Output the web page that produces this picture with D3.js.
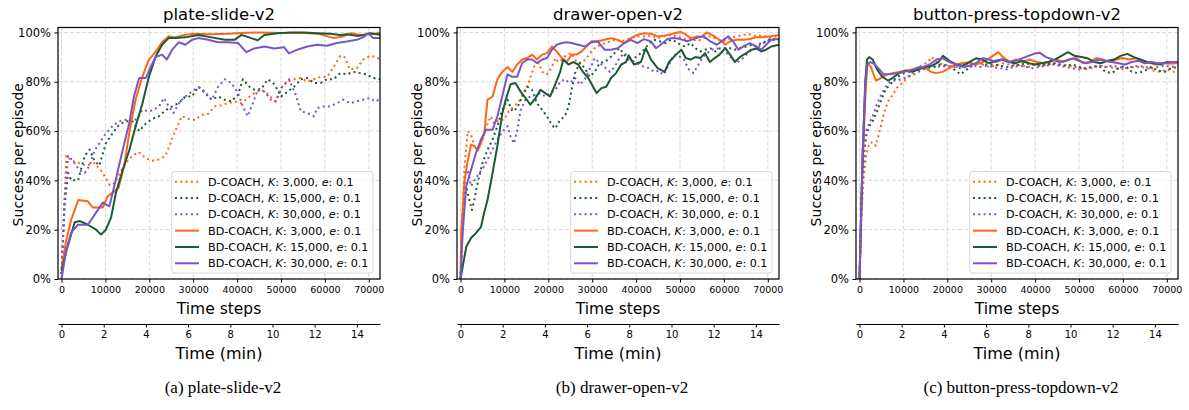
<!DOCTYPE html>
<html>
<head>
<meta charset="utf-8">
<script src="https://cdn.jsdelivr.net/npm/d3@7"></script>
<style>
  body { margin: 0; background: #fff; }
  svg text { font-family: "DejaVu Sans", sans-serif; fill: #000; }
</style>
</head>
<body>
<div id="chart"></div>
<script>
// tick labels
const stepTicks = [0, 10000, 20000, 30000, 40000, 50000, 60000, 70000];
const minuteTicks = [0, 2, 4, 6, 8, 10, 12, 14];
const pctTicks = [0, 0.2, 0.4, 0.6, 0.8, 1.0];

// legend entries
const methods = ["D-COACH", "D-COACH", "D-COACH", "BD-COACH", "BD-COACH", "BD-COACH"];
const bufferSizes = ["3,000", "15,000", "30,000", "3,000", "15,000", "30,000"];
const errorValue = "0.1";

const envTitles = ["plate-slide-v2", "drawer-open-v2", "button-press-topdown-v2"];
const captions = ["(a) plate-slide-v2", "(b) drawer-open-v2", "(c) button-press-topdown-v2"];

// ---- plate-slide-v2 : [time step, success] ----
const plateD3 = [[0,0.02],[1100,0.5],[2250,0.48],[4100,0.47],[5600,0.46],[7500,0.47],[9400,0.43],[11000,0.38],[12200,0.39],[13300,0.43],[14600,0.47],[16200,0.5],[17600,0.515],[19200,0.49],[20700,0.48],[22200,0.485],[23700,0.5],[24800,0.55],[25900,0.6],[27400,0.66],[28900,0.65],[30400,0.645],[31900,0.665],[33400,0.67],[34900,0.7],[36400,0.705],[37900,0.713],[39400,0.72],[40900,0.713],[42400,0.733],[43900,0.754],[45500,0.768],[47000,0.75],[48700,0.72],[50000,0.775],[51500,0.8],[53000,0.81],[54500,0.815],[56000,0.8],[57500,0.81],[59000,0.82],[60500,0.82],[62000,0.86],[63500,0.905],[64500,0.9],[65700,0.85],[67300,0.855],[68700,0.89],[70300,0.905],[71700,0.9],[72600,0.89]];
const plateD15 = [[0,0.02],[700,0.3],[1500,0.43],[2250,0.4],[3750,0.4],[5300,0.5],[6400,0.525],[7500,0.48],[8600,0.46],[10100,0.55],[11600,0.59],[13100,0.625],[14600,0.64],[16200,0.64],[17700,0.6],[19200,0.63],[20700,0.65],[22200,0.66],[23700,0.685],[25200,0.7],[26700,0.713],[28200,0.74],[29700,0.74],[31200,0.78],[32700,0.754],[34200,0.727],[35700,0.74],[37200,0.727],[38700,0.72],[40200,0.747],[41300,0.81],[42800,0.78],[43900,0.768],[45500,0.77],[47000,0.81],[48500,0.79],[50000,0.74],[51500,0.76],[53000,0.78],[54500,0.81],[56000,0.815],[57500,0.795],[59000,0.795],[60500,0.81],[62000,0.81],[63500,0.835],[65000,0.83],[66500,0.84],[68000,0.835],[69500,0.83],[71000,0.815],[72600,0.81]];
const plateD30 = [[0,0.02],[700,0.32],[1500,0.5],[2600,0.48],[4100,0.44],[5300,0.43],[6400,0.46],[7500,0.52],[8600,0.55],[10100,0.59],[11600,0.62],[13100,0.64],[14600,0.646],[16200,0.64],[17300,0.65],[18400,0.686],[19900,0.68],[21000,0.686],[22200,0.7],[23300,0.734],[24400,0.7],[25500,0.673],[27000,0.72],[28200,0.74],[29700,0.76],[31200,0.778],[32700,0.76],[34200,0.727],[35700,0.78],[37200,0.81],[38700,0.795],[40200,0.754],[41300,0.7],[42400,0.66],[43600,0.713],[44700,0.768],[46200,0.76],[47700,0.727],[48800,0.72],[50300,0.78],[51800,0.81],[53300,0.75],[54500,0.68],[56000,0.673],[57500,0.66],[58200,0.693],[59700,0.7],[61200,0.7],[62700,0.713],[64200,0.727],[65700,0.713],[67200,0.72],[68700,0.727],[70200,0.734],[71500,0.72],[72600,0.73]];
const plateB3 = [[0,0.04],[1000,0.15],[2200,0.24],[3800,0.32],[6000,0.315],[7100,0.29],[9400,0.29],[10500,0.335],[12000,0.355],[13000,0.37],[14300,0.46],[15400,0.59],[16900,0.73],[18400,0.82],[19900,0.89],[21400,0.92],[22900,0.96],[24400,0.985],[25900,0.98],[28000,0.99],[30000,0.995],[34000,0.993],[38000,0.995],[41000,0.998],[45000,1.0],[50000,0.998],[55000,0.998],[58500,0.995],[60500,0.985],[62000,0.977],[64000,0.983],[66000,0.997],[68000,0.99],[70000,0.993],[72600,0.998]];
const plateB15 = [[0,0.03],[1200,0.12],[3000,0.23],[4200,0.235],[6000,0.22],[7900,0.2],[9000,0.18],[10100,0.2],[11300,0.25],[12400,0.35],[13900,0.44],[15400,0.52],[16900,0.62],[18400,0.71],[19900,0.82],[21400,0.9],[22900,0.95],[24400,0.977],[26000,0.977],[28200,0.98],[31200,0.99],[34200,0.98],[37200,0.97],[39400,0.97],[41000,0.99],[43200,0.977],[44700,0.968],[46200,0.99],[49200,0.997],[52200,1.0],[55200,1.0],[58200,0.997],[61200,0.995],[63500,0.99],[65000,0.993],[67200,0.986],[69000,0.99],[70200,0.997],[72600,0.99]];
const plateB30 = [[0,0.0],[1100,0.12],[2250,0.19],[3750,0.22],[6000,0.22],[7900,0.27],[9400,0.31],[10900,0.295],[12000,0.375],[13100,0.46],[14300,0.55],[15400,0.63],[16500,0.74],[17700,0.815],[19200,0.815],[20300,0.86],[21400,0.9],[22900,0.91],[24000,0.89],[25200,0.93],[26700,0.96],[28200,0.95],[29700,0.97],[31200,0.977],[33400,0.97],[35700,0.96],[37900,0.96],[40200,0.957],[42100,0.92],[43900,0.935],[46200,0.943],[48500,0.935],[50700,0.94],[51800,0.915],[53700,0.93],[56000,0.943],[58200,0.95],[60500,0.946],[62700,0.957],[65000,0.963],[67200,0.97],[68700,0.98],[69900,0.997],[71000,0.977],[72600,0.977]];

// ---- drawer-open-v2 ----
const drawerD3 = [[0,0.0],[400,0.19],[900,0.457],[1650,0.6],[2400,0.585],[3150,0.54],[3900,0.524],[5000,0.565],[6150,0.63],[6900,0.66],[7700,0.63],[8800,0.646],[9900,0.646],[11000,0.68],[12200,0.7],[13300,0.72],[14400,0.754],[15600,0.8],[16700,0.86],[17800,0.876],[18600,0.84],[19700,0.83],[20800,0.86],[21600,0.896],[22300,0.88],[23100,0.89],[24200,0.91],[25300,0.916],[26400,0.88],[27600,0.876],[28700,0.896],[29800,0.923],[31000,0.943],[32100,0.95],[33200,0.96],[34300,0.963],[35500,0.973],[36600,0.963],[37700,0.97],[38800,0.977],[40300,0.984],[41800,0.984],[43400,0.987],[44900,0.977],[46400,0.984],[47900,0.99],[49400,0.984],[50900,0.973],[52400,0.977],[53900,0.964],[55400,0.977],[56900,0.984],[58400,0.973],[59900,0.964],[61400,0.977],[62900,0.984],[64400,0.99],[65900,0.993],[67400,0.984],[68900,0.987],[70400,0.98],[72600,0.984]];
const drawerD15 = [[0,0.0],[500,0.25],[1300,0.376],[2000,0.32],[2600,0.28],[3150,0.32],[3900,0.39],[5000,0.47],[6150,0.524],[7300,0.565],[8400,0.62],[9500,0.686],[10700,0.727],[11800,0.68],[12900,0.693],[14050,0.74],[15200,0.78],[16300,0.767],[17400,0.713],[18600,0.686],[19700,0.66],[20800,0.625],[21600,0.61],[22700,0.646],[23800,0.66],[24600,0.7],[25300,0.767],[26100,0.835],[27200,0.876],[28300,0.855],[29400,0.82],[30600,0.84],[31700,0.876],[32800,0.88],[34000,0.896],[35100,0.916],[36200,0.936],[37300,0.91],[38500,0.88],[39600,0.896],[40700,0.91],[41800,0.93],[43000,0.957],[44100,0.97],[45600,0.963],[46700,0.957],[47900,0.97],[49000,0.963],[50100,0.95],[51200,0.943],[52400,0.957],[53500,0.936],[54600,0.923],[55700,0.93],[56900,0.936],[58000,0.923],[59100,0.936],[60300,0.936],[61400,0.936],[62500,0.93],[63600,0.936],[65100,0.943],[66300,0.95],[67400,0.943],[68500,0.957],[69600,0.964],[70800,0.977],[72600,0.964]];
const drawerD30 = [[0,0.0],[500,0.25],[1100,0.416],[1650,0.443],[2400,0.376],[3150,0.4],[4300,0.43],[5400,0.457],[6500,0.497],[7700,0.54],[8800,0.578],[9900,0.605],[10700,0.62],[11400,0.578],[12200,0.55],[12900,0.6],[13700,0.686],[14800,0.727],[15900,0.74],[17100,0.747],[18200,0.754],[19300,0.74],[20400,0.754],[21600,0.767],[22700,0.8],[23800,0.81],[24900,0.795],[26100,0.815],[27200,0.788],[28300,0.81],[29400,0.85],[30600,0.896],[31700,0.876],[32800,0.86],[34000,0.84],[35100,0.86],[36200,0.896],[37300,0.916],[38500,0.896],[39600,0.88],[40700,0.87],[41800,0.86],[43000,0.855],[44100,0.84],[45200,0.845],[46200,0.828],[47500,0.87],[48600,0.91],[49700,0.905],[50900,0.89],[52000,0.85],[53100,0.835],[54200,0.87],[55000,0.896],[56100,0.916],[57300,0.93],[58400,0.936],[59500,0.923],[60600,0.916],[61800,0.896],[62900,0.876],[64000,0.89],[65100,0.91],[66300,0.93],[67400,0.936],[68500,0.95],[69600,0.964],[70800,0.97],[72600,0.973]];
const drawerB3 = [[0,0.0],[150,0.19],[900,0.4],[1650,0.48],[2400,0.545],[3150,0.54],[3900,0.52],[4650,0.55],[5400,0.59],[6150,0.727],[7300,0.74],[8400,0.81],[9500,0.84],[10700,0.86],[11800,0.84],[12900,0.87],[14050,0.89],[15200,0.896],[16300,0.91],[17400,0.89],[18600,0.91],[19700,0.916],[20800,0.943],[21900,0.923],[23100,0.896],[24200,0.88],[25300,0.91],[26400,0.91],[27600,0.923],[28700,0.943],[29800,0.964],[31300,0.964],[32800,0.97],[34300,0.977],[35800,0.97],[37300,0.957],[38800,0.977],[40300,0.99],[41800,0.997],[43400,0.995],[44900,0.984],[46400,0.987],[47900,0.993],[49400,1.0],[50100,1.002],[51200,0.993],[52400,0.977],[53900,0.984],[55000,0.984],[56100,1.0],[57300,0.99],[58400,0.977],[59500,0.964],[60300,0.95],[61400,0.964],[62900,0.97],[64400,0.97],[65900,0.973],[67400,0.98],[68900,0.98],[70400,0.984],[72600,0.99]];
const drawerB15 = [[0,0.0],[500,0.05],[1300,0.13],[2400,0.166],[3500,0.186],[4650,0.21],[5400,0.27],[6150,0.32],[7300,0.43],[8400,0.54],[9500,0.67],[10300,0.727],[11400,0.79],[12500,0.795],[13700,0.76],[14800,0.734],[15900,0.707],[17100,0.734],[18200,0.767],[19300,0.754],[20400,0.74],[21600,0.79],[22700,0.84],[23400,0.89],[24600,0.87],[25700,0.88],[26800,0.87],[27900,0.84],[29100,0.815],[30200,0.78],[31000,0.754],[32100,0.774],[33200,0.78],[34300,0.815],[35400,0.834],[36600,0.87],[37700,0.88],[38300,0.907],[39500,0.87],[41100,0.88],[42200,0.936],[43400,0.89],[44900,0.855],[46500,0.84],[47500,0.88],[49100,0.91],[50300,0.93],[51300,0.896],[52400,0.89],[53500,0.9],[54600,0.896],[55700,0.916],[56800,0.88],[57900,0.896],[59000,0.91],[60300,0.936],[61400,0.91],[62500,0.88],[63600,0.9],[65100,0.916],[66300,0.93],[67400,0.935],[68500,0.923],[69600,0.93],[70800,0.943],[72600,0.95]];
const drawerB30 = [[0,0.0],[500,0.19],[1300,0.376],[2400,0.443],[3500,0.51],[4650,0.565],[5800,0.605],[7300,0.605],[8400,0.66],[9500,0.74],[10700,0.83],[11800,0.82],[12900,0.82],[14050,0.876],[15200,0.89],[16300,0.89],[17400,0.876],[18600,0.89],[19700,0.896],[20800,0.93],[21900,0.95],[23100,0.957],[24200,0.96],[25300,0.957],[26800,0.95],[28300,0.943],[29800,0.96],[31300,0.963],[32800,0.93],[34300,0.93],[35800,0.936],[37300,0.957],[38800,0.97],[40300,0.957],[41800,0.973],[43400,0.963],[44500,0.936],[45600,0.95],[47100,0.973],[48600,0.977],[50100,0.973],[51600,0.964],[53100,0.973],[54200,0.98],[55400,0.984],[56900,0.964],[58400,0.95],[59900,0.97],[61000,0.984],[62100,0.963],[63300,0.93],[64400,0.943],[65900,0.957],[67400,0.943],[68500,0.93],[69600,0.95],[70800,0.97],[72600,0.973]];

// ---- button-press-topdown-v2 ----
const buttonD3 = [[0,0.0],[500,0.28],[1000,0.42],[1500,0.5],[2200,0.55],[3000,0.555],[3700,0.54],[4300,0.58],[5000,0.63],[5700,0.68],[6500,0.72],[7500,0.745],[8500,0.775],[10000,0.8],[11000,0.82],[12500,0.84],[14000,0.865],[15500,0.88],[16500,0.9],[17500,0.88],[19000,0.87],[20500,0.865],[22000,0.86],[23500,0.865],[25000,0.87],[26500,0.875],[28000,0.87],[29500,0.86],[31000,0.865],[32500,0.875],[34000,0.87],[35500,0.87],[37000,0.865],[38500,0.86],[40000,0.87],[41500,0.865],[43000,0.87],[44500,0.875],[46000,0.87],[47500,0.865],[49000,0.86],[50500,0.855],[52000,0.85],[53500,0.86],[55000,0.865],[56500,0.86],[58000,0.855],[59500,0.85],[61000,0.855],[62500,0.86],[64000,0.86],[65500,0.855],[67000,0.845],[68500,0.84],[70000,0.85],[72600,0.835]];
const buttonD15 = [[0,0.0],[500,0.35],[1000,0.5],[1500,0.58],[2200,0.62],[3000,0.64],[4000,0.68],[5000,0.73],[6000,0.77],[7000,0.79],[8000,0.81],[9500,0.83],[11000,0.84],[12500,0.845],[14000,0.85],[15500,0.855],[17000,0.86],[18500,0.87],[20000,0.865],[21500,0.85],[23000,0.83],[24500,0.85],[26000,0.87],[27500,0.875],[29000,0.87],[30500,0.87],[32000,0.865],[33500,0.86],[35000,0.865],[36500,0.87],[38000,0.875],[39500,0.87],[41000,0.865],[42500,0.87],[44000,0.875],[45500,0.87],[47000,0.865],[48500,0.87],[50000,0.86],[51500,0.855],[53000,0.86],[54500,0.865],[56000,0.84],[57500,0.835],[59000,0.855],[60500,0.865],[62000,0.84],[63500,0.835],[65000,0.845],[66500,0.86],[68000,0.845],[69500,0.84],[71000,0.855],[72600,0.86]];
const buttonD30 = [[0,0.0],[500,0.38],[1000,0.52],[1500,0.6],[2200,0.63],[3000,0.66],[4000,0.71],[5000,0.75],[6000,0.78],[7000,0.8],[8000,0.805],[9500,0.81],[11000,0.82],[12500,0.83],[14000,0.845],[15500,0.86],[17000,0.865],[18500,0.86],[20000,0.865],[21500,0.86],[23000,0.855],[24500,0.86],[26000,0.865],[27500,0.86],[29000,0.865],[30500,0.86],[32000,0.855],[33500,0.85],[35000,0.86],[36500,0.865],[38000,0.86],[39500,0.855],[41000,0.86],[42500,0.865],[44000,0.87],[45500,0.865],[47000,0.86],[48500,0.855],[50000,0.85],[51500,0.855],[53000,0.86],[54500,0.865],[56000,0.86],[57500,0.865],[59000,0.86],[60500,0.855],[62000,0.86],[63500,0.865],[65000,0.86],[66500,0.855],[68000,0.86],[69500,0.865],[71000,0.86],[72600,0.865]];
const buttonB3 = [[0,0.0],[300,0.19],[700,0.457],[1300,0.727],[1800,0.876],[2600,0.86],[3700,0.806],[4500,0.81],[5200,0.82],[6400,0.83],[7500,0.835],[9000,0.84],[10600,0.846],[12100,0.85],[13600,0.86],[15100,0.855],[16300,0.84],[17400,0.835],[18900,0.84],[20500,0.855],[22000,0.87],[23500,0.876],[25000,0.878],[26500,0.87],[28100,0.88],[29600,0.896],[30800,0.91],[31600,0.92],[32700,0.9],[34200,0.88],[35700,0.89],[37200,0.88],[38700,0.89],[40300,0.88],[41800,0.876],[43300,0.88],[44800,0.89],[46300,0.88],[47800,0.89],[49400,0.896],[50900,0.876],[52400,0.88],[53900,0.896],[55400,0.89],[57000,0.88],[58500,0.89],[60000,0.896],[61500,0.89],[63000,0.896],[64600,0.88],[66100,0.876],[67600,0.87],[69100,0.876],[70600,0.873],[72600,0.876]];
const buttonB15 = [[0,0.0],[700,0.5],[1300,0.8],[1700,0.89],[2200,0.9],[3000,0.89],[4000,0.85],[5200,0.82],[6500,0.805],[7500,0.815],[9000,0.835],[10500,0.845],[12000,0.84],[13500,0.85],[15000,0.86],[16500,0.865],[18000,0.88],[19000,0.905],[20500,0.885],[22000,0.87],[23500,0.865],[25000,0.88],[26500,0.895],[28000,0.89],[29500,0.875],[31000,0.885],[32500,0.89],[34000,0.88],[35500,0.875],[37000,0.885],[38500,0.875],[40000,0.87],[41500,0.875],[43000,0.88],[44500,0.89],[46000,0.905],[47500,0.92],[49000,0.905],[50500,0.9],[52000,0.895],[53500,0.88],[55000,0.875],[56500,0.885],[58000,0.89],[59500,0.905],[61000,0.913],[62500,0.9],[64000,0.89],[65500,0.88],[67000,0.875],[68500,0.87],[70000,0.88],[72600,0.88]];
const buttonB30 = [[0,0.0],[700,0.5],[1300,0.78],[1700,0.87],[2500,0.88],[3500,0.87],[4500,0.85],[5500,0.83],[7000,0.83],[8500,0.835],[10000,0.84],[11500,0.845],[13000,0.855],[14500,0.86],[16000,0.87],[17500,0.89],[19000,0.895],[20500,0.88],[22000,0.87],[23500,0.86],[25000,0.865],[26500,0.875],[28000,0.895],[29500,0.89],[31000,0.88],[32500,0.89],[34000,0.88],[35500,0.885],[37000,0.895],[38500,0.905],[40000,0.915],[41000,0.918],[42500,0.9],[44000,0.89],[45500,0.88],[47000,0.885],[48500,0.895],[50000,0.885],[51500,0.875],[53000,0.88],[54500,0.89],[56000,0.885],[57500,0.88],[59000,0.875],[60500,0.87],[62000,0.88],[63500,0.885],[65000,0.875],[66500,0.88],[68000,0.875],[69500,0.875],[71000,0.88],[72600,0.88]];

const panelSeries = [
  [plateD3, plateD15, plateD30, plateB3, plateB15, plateB30],
  [drawerD3, drawerD15, drawerD30, drawerB3, drawerB15, drawerB30],
  [buttonD3, buttonD15, buttonD30, buttonB3, buttonB15, buttonB30]
];

const colors = ["#ff6614", "#1a5a35", "#7b55c7", "#ff6614", "#1a5a35", "#7b55c7"];
const dotted = [true, true, true, false, false, false];

const W = 1189, H = 410;
const panelOffsets = [0, 399, 798];
const plotW = 322, plotTop = 27.5, plotBottom = 279;
const stepsPerMin = 4806;
const xDomain = [-800, 72550];

const svg = d3.select("#chart").append("svg")
  .attr("width", W)
  .attr("height", H);

panelSeries.forEach((series, p) => {
  const left = 58 + panelOffsets[p];
  const right = left + plotW;

  const xScale = d3.scaleLinear().domain(xDomain).range([left, right]);
  const minScale = d3.scaleLinear()
    .domain([xDomain[0] / stepsPerMin, xDomain[1] / stepsPerMin])
    .range([left, right]);
  const yScale = d3.scaleLinear().domain([0, 1.02]).range([plotBottom, plotTop]);

  const grp = svg.append("g");

  // grid
  grp.append("g").selectAll("line")
    .data(stepTicks).join("line")
    .attr("x1", d => xScale(d)).attr("x2", d => xScale(d))
    .attr("y1", plotTop).attr("y2", plotBottom)
    .attr("stroke", "#cfcfcf").attr("stroke-width", 0.8)
    .attr("stroke-dasharray", "4,2");
  grp.append("g").selectAll("line")
    .data(pctTicks).join("line")
    .attr("x1", left).attr("x2", right)
    .attr("y1", d => yScale(d)).attr("y2", d => yScale(d))
    .attr("stroke", "#cfcfcf").attr("stroke-width", 0.8)
    .attr("stroke-dasharray", "4,2");

  // clip
  const clipId = "clip" + p;
  svg.append("clipPath").attr("id", clipId)
    .append("rect")
    .attr("x", left).attr("y", plotTop - 2)
    .attr("width", plotW).attr("height", plotBottom - plotTop + 2);

  const line = d3.line()
    .x(d => xScale(d[0]))
    .y(d => yScale(d[1]));

  const lines = grp.append("g").attr("clip-path", "url(#" + clipId + ")");
  series.forEach((s, i) => {
    lines.append("path")
      .datum(s)
      .attr("d", line)
      .attr("fill", "none")
      .attr("stroke", colors[i])
      .attr("stroke-width", 2)
      .attr("stroke-linejoin", "round")
      .attr("stroke-dasharray", dotted[i] ? "2,3.3" : null);
  });

  // axes
  const yAxis = grp.append("g")
    .attr("transform", "translate(" + left + ",0)")
    .call(d3.axisLeft(yScale).tickValues(pctTicks)
      .tickFormat(d3.format(".0%")).tickSize(3.5).tickPadding(3.5));
  yAxis.select(".domain").remove();
  yAxis.selectAll("text").style("font-size", "11.5px").style("font-family", "DejaVu Sans");

  const xAxis = grp.append("g")
    .attr("transform", "translate(0," + plotBottom + ")")
    .call(d3.axisBottom(xScale).tickValues(stepTicks)
      .tickFormat(d3.format("d")).tickSize(3.5).tickPadding(3.5));
  xAxis.select(".domain").remove();
  xAxis.selectAll("text").style("font-size", "9.5px").style("font-family", "DejaVu Sans");

  const minAxis = grp.append("g")
    .attr("transform", "translate(0,324)")
    .call(d3.axisBottom(minScale).tickValues(minuteTicks)
      .tickSize(3.5).tickSizeOuter(0).tickPadding(3.5));
  minAxis.selectAll("text").style("font-size", "10px").style("font-family", "DejaVu Sans");
  minAxis.select(".domain").attr("stroke-width", 1.2);

  // frame
  grp.append("rect")
    .attr("x", left).attr("y", plotTop)
    .attr("width", plotW).attr("height", plotBottom - plotTop)
    .attr("fill", "none").attr("stroke", "#000").attr("stroke-width", 1.2);

  // labels
  grp.append("text")
    .attr("x", (left + right) / 2).attr("y", 19.5)
    .attr("text-anchor", "middle").style("font-size", "16.5px")
    .text(envTitles[p]);

  grp.append("text")
    .attr("transform", "translate(" + (left - 40) + "," + ((plotTop + plotBottom) / 2 + 1.5) + ") rotate(-90)")
    .attr("text-anchor", "middle").attr("dy", "0.35em")
    .style("font-size", "14px")
    .text("Success per episode");

  grp.append("text")
    .attr("x", (left + right) / 2).attr("y", 314)
    .attr("text-anchor", "middle").style("font-size", "15.5px")
    .text("Time steps");

  grp.append("text")
    .attr("x", (left + right) / 2).attr("y", 359)
    .attr("text-anchor", "middle").style("font-size", "16px")
    .text("Time (min)");

  grp.append("text")
    .attr("x", (left + right) / 2 + 4).attr("y", 393)
    .attr("text-anchor", "middle")
    .style("font-family", "'Liberation Serif', 'Times New Roman', serif")
    .style("font-size", "17px")
    .text(captions[p]);

  // legend
  const lgX = left + 113.7, lgY = 171.5;
  const legend = grp.append("g");
  legend.append("rect")
    .attr("x", lgX).attr("y", lgY)
    .attr("width", right - 7 - lgX).attr("height", 273 - lgY)
    .attr("rx", 3)
    .attr("fill", "#fff").attr("fill-opacity", 0.8)
    .attr("stroke", "#d6d6d6").attr("stroke-width", 1);

  methods.forEach((m, i) => {
    const ry = 181.7 + i * 16.32;
    legend.append("line")
      .attr("x1", left + 117).attr("x2", left + 141)
      .attr("y1", ry).attr("y2", ry)
      .attr("stroke", colors[i]).attr("stroke-width", 2)
      .attr("stroke-dasharray", dotted[i] ? "2,3.3" : null);
    const t = legend.append("text")
      .attr("x", left + 150).attr("y", ry).attr("dy", "0.36em")
      .style("font-size", "11.2px");
    t.append("tspan").text(m + ", ");
    t.append("tspan").style("font-style", "italic").text("K");
    t.append("tspan").text(": " + bufferSizes[i] + ", ");
    t.append("tspan").style("font-style", "italic").text("e");
    t.append("tspan").text(": " + errorValue);
  });
});
</script>
</body>
</html>
